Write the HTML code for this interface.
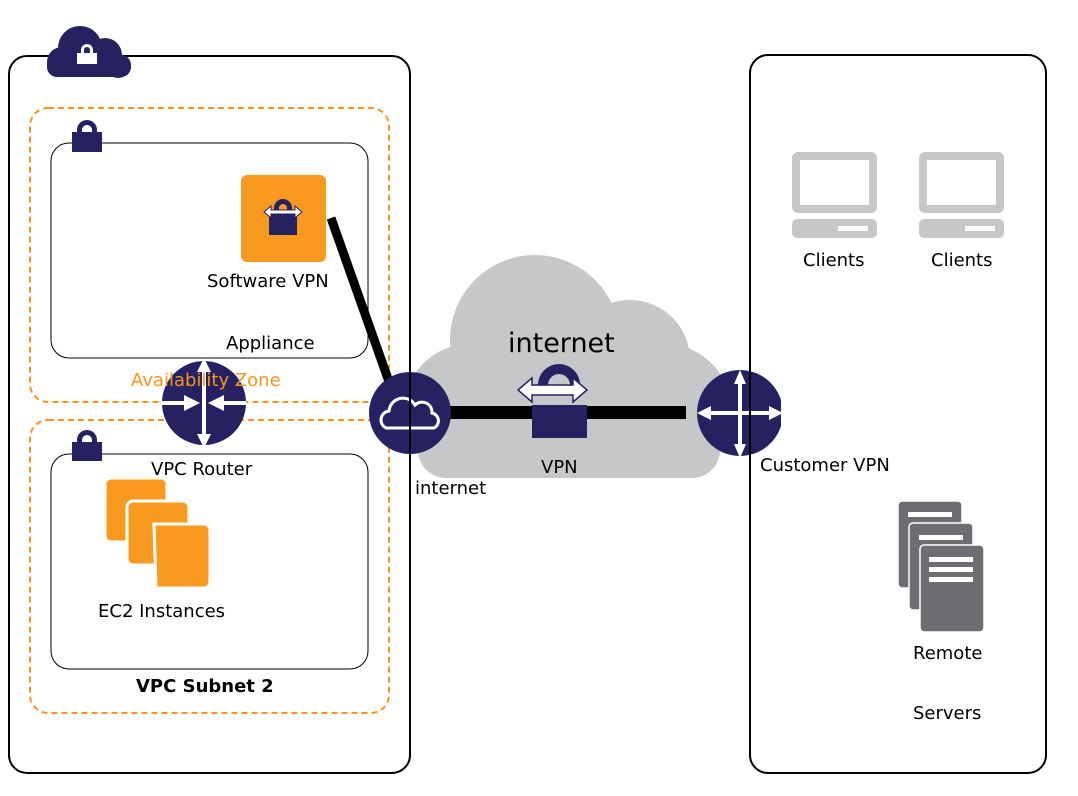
<!DOCTYPE html>
<html><head><meta charset="utf-8"><style>
html,body{margin:0;padding:0;background:#fff;}
svg{display:block;}
text{font-family:"DejaVu Sans","Liberation Sans",sans-serif;}
</style></head><body>
<svg width="1078" height="796" viewBox="0 0 1078 796" xmlns="http://www.w3.org/2000/svg">
<!-- grey cloud -->
<g fill="#c6c7c9">
<circle cx="535" cy="340" r="85"/>
<circle cx="630" cy="360" r="60"/>
<circle cx="665" cy="410" r="66"/>
<circle cx="470" cy="410" r="66"/>
<rect x="465" y="380" width="205" height="98" rx="10"/>
<rect x="418" y="420" width="302" height="58" rx="28"/>
</g>
<!-- main boxes -->
<rect x="9" y="56" width="401" height="717" rx="18" fill="none" stroke="#000" stroke-width="2"/>
<rect x="750" y="55" width="296" height="718" rx="18" fill="none" stroke="#000" stroke-width="2"/>
<!-- AZ dashed -->
<rect x="30" y="108" width="359" height="294" rx="18" fill="none" stroke="#f7941e" stroke-width="2" stroke-dasharray="6,4"/>
<rect x="30" y="420" width="359" height="293" rx="18" fill="none" stroke="#f7941e" stroke-width="2" stroke-dasharray="6,4"/>
<!-- inner boxes -->
<rect x="51" y="143" width="317" height="215" rx="18" fill="#fff" stroke="#000" stroke-width="1"/>
<rect x="51" y="454" width="317" height="215" rx="18" fill="#fff" stroke="#000" stroke-width="1"/>
<!-- locks -->
<g fill="#262262">
<path d="M77 130 a10 10 0 0 1 20 0 v3 h-5 v-3 a5 5 0 0 0 -10 0 v3 h-5z"/>
<rect x="72" y="132" width="30" height="20"/>
<path d="M77 440 a10 10 0 0 1 20 0 v3 h-5 v-3 a5 5 0 0 0 -10 0 v3 h-5z"/>
<rect x="72" y="442" width="30" height="19"/>
</g>
<!-- top cloud icon -->
<g fill="#262262">
<circle cx="80" cy="48" r="22"/>
<circle cx="105" cy="55" r="17"/>
<circle cx="62" cy="62" r="15"/>
<circle cx="118" cy="66" r="12"/>
<rect x="47" y="55" width="84" height="22" rx="10"/>
</g>
<path d="M81 50 a6 6 0 0 1 12 0 v3 h-3 v-3 a3 3 0 0 0 -6 0 v3 h-3z" fill="#fff"/>
<rect x="77" y="53" width="20" height="11" fill="#fff"/>
<!-- software VPN -->
<rect x="241" y="175" width="85" height="87" rx="6" fill="#f89a20"/>
<path d="M274 208 a9 9 0 0 1 18 0 v6 h-5 v-6 a4 4 0 0 0 -8 0 v6 h-5z" fill="#262262"/>
<rect x="269" y="214" width="28" height="21" fill="#262262"/>
<path d="M264 212 l7 -6 v4 h24 v-4 l7 6 l-7 6 v-4 h-24 v4z" fill="#fff" stroke="#262262" stroke-width="1"/>
<!-- thick line -->
<line x1="331" y1="218" x2="393" y2="393" stroke="#000" stroke-width="9"/>
<!-- horizontal black line -->
<rect x="440" y="406" width="246" height="13" fill="#000"/>
<!-- VPN lock -->
<path d="M538 395 v-10 a21 21 0 0 1 42 0 v10 h-10 v-10 a11 11 0 0 0 -22 0 v10z" fill="#262262"/>
<rect x="532" y="405" width="55" height="33" fill="#262262"/>
<path d="M518 390 l14 -12 v7 h41 v-7 l14 12 l-14 12 v-7 h-41 v7z" fill="#fff" stroke="#262262" stroke-width="1.5"/>
<!-- VPC router -->
<circle cx="204" cy="403" r="42" fill="#262262"/>
<g fill="#fff">
<rect x="202" y="370" width="4" height="68"/>
<path d="M204 358 l-7 14 h14z"/><path d="M204 448 l-7 -14 h14z"/>
<rect x="162" y="401" width="24" height="4"/><path d="M200 403 l-16 -8 v16z"/>
<rect x="222" y="401" width="24" height="4"/><path d="M208 403 l16 -8 v16z"/>
</g>
<!-- internet icon -->
<circle cx="410" cy="413" r="41" fill="#262262"/>
<path d="M386 428 a9 9 0 0 1 3 -17 a14 14 0 0 1 26 -6 a10 10 0 0 1 17 8 a8 8 0 0 1 2 15z" fill="#262262" stroke="#fff" stroke-width="3"/>
<!-- customer router -->
<clipPath id="cr"><rect x="697" y="360" width="84" height="110"/></clipPath>
<g clip-path="url(#cr)">
<circle cx="740" cy="413" r="43" fill="#262262"/>
<g fill="#fff">
<rect x="738" y="380" width="4" height="70"/>
<path d="M740 370 l-6 14 h12z"/><path d="M740 458 l-6 -14 h12z"/>
<rect x="705" y="411" width="72" height="4"/>
<path d="M697 413 l14 -7 v14z"/><path d="M783 413 l-14 -7 v14z"/>
</g>
</g>
<line x1="750" y1="360" x2="750" y2="470" stroke="#000" stroke-width="2"/>
<line x1="410" y1="360" x2="410" y2="470" stroke="#000" stroke-width="2"/>
<!-- clients -->
<g fill="#c6c7c9">
<rect x="792" y="152" width="85" height="61" rx="6"/>
<rect x="792" y="219" width="85" height="19" rx="5"/>
<rect x="919" y="152" width="85" height="61" rx="6"/>
<rect x="919" y="219" width="85" height="19" rx="5"/>
</g>
<rect x="800" y="160" width="69" height="45" fill="#fff"/>
<rect x="927" y="160" width="69" height="45" fill="#fff"/>
<rect x="838" y="226" width="30" height="5" fill="#fff"/>
<rect x="965" y="226" width="30" height="5" fill="#fff"/>
<!-- servers -->
<g fill="#6d6e71" stroke="#fff" stroke-width="1.5">
<rect x="898" y="501" width="64" height="87" rx="4"/>
<rect x="909" y="523" width="64" height="87" rx="4"/>
<rect x="920" y="545" width="64" height="87" rx="4"/>
</g>
<g fill="#fff">
<rect x="908" y="512" width="44" height="5"/>
<rect x="919" y="535" width="44" height="5"/>
<rect x="929" y="557" width="44" height="5"/>
<rect x="929" y="567" width="44" height="5"/>
<rect x="929" y="577" width="44" height="5"/>
</g>
<!-- text -->
<g font-size="18" fill="#000">
<text x="207" y="287">Software VPN</text>
<text x="226" y="349">Appliance</text>
<text x="131" y="386" fill="#f7941e">Availability Zone</text>
<text x="151" y="475">VPC Router</text>
<text x="98" y="617">EC2 Instances</text>
<text x="136" y="692" font-weight="bold">VPC Subnet 2</text>
<text x="415" y="494">internet</text>
<text x="541" y="473">VPN</text>
<text x="760" y="471">Customer VPN</text>
<text x="803" y="266">Clients</text>
<text x="931" y="266">Clients</text>
<text x="913" y="659">Remote</text>
<text x="913" y="719">Servers</text>
<text x="508" y="352" font-size="27">internet</text>
</g>
<!-- EC2 -->
<g fill="#f89a20" stroke="#fff" stroke-width="3">
<rect x="105" y="478" width="62" height="64" rx="6"/>
<rect x="127" y="501" width="62" height="64" rx="6"/>
<path d="M154 524 h50 a6 6 0 0 1 6 6 v52 a6 6 0 0 1 -6 6 h-48z"/>
</g>
</svg>
</body></html>
